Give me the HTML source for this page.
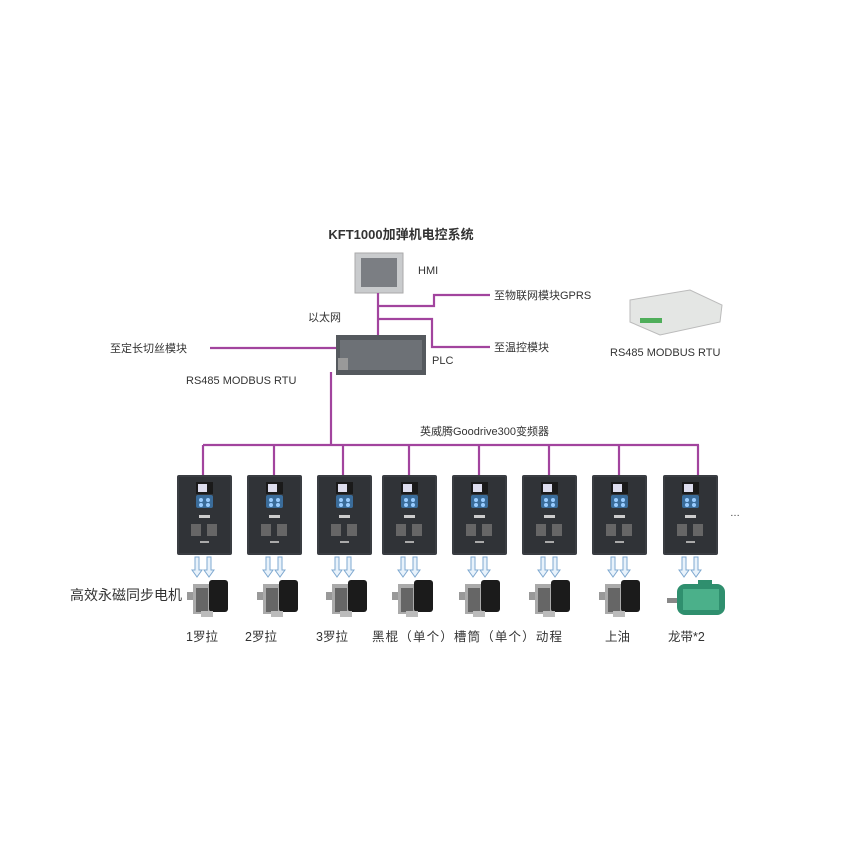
<!DOCTYPE html>
<html><head><meta charset="utf-8"><style>
html,body{margin:0;padding:0;background:#fff}
svg{display:block}
text{font-family:"Liberation Sans","Noto Sans CJK SC",sans-serif;fill:#333}
</style></head><body>
<svg width="850" height="850" viewBox="0 0 850 850" xmlns="http://www.w3.org/2000/svg">
<defs>
<g id="drive">
<rect x="0" y="0" width="55" height="80" rx="2" fill="#3a3d42"/>
<rect x="2" y="2" width="51" height="76" fill="#303337"/>
<rect x="19" y="7" width="17" height="12" fill="#1a1a1a"/>
<rect x="21" y="9" width="9" height="8" fill="#dde"/>
<rect x="19" y="20" width="17" height="13" rx="2" fill="#3a6c9a"/>
<circle cx="24" cy="25" r="2" fill="#9cf"/><circle cx="31" cy="25" r="2" fill="#9cf"/>
<circle cx="24" cy="30" r="2" fill="#9cf"/><circle cx="31" cy="30" r="2" fill="#9cf"/>
<rect x="22" y="40" width="11" height="3" fill="#ccc"/>
<rect x="14" y="49" width="10" height="12" fill="#666"/><rect x="30" y="49" width="10" height="12" fill="#666"/>
<rect x="23" y="66" width="9" height="2" fill="#aaa"/>
</g>
<g id="motor">
<rect x="0" y="12" width="8" height="8" fill="#999"/>
<rect x="6" y="4" width="18" height="30" fill="#aaa"/>
<rect x="9" y="8" width="12" height="24" fill="#666"/>
<rect x="22" y="0" width="19" height="32" rx="3" fill="#1b1b1b"/>
<rect x="14" y="31" width="12" height="6" fill="#bbb"/>
</g>
<g id="arr">
<path d="M-8 0 V13 H-11 L-6 20 L-1 13 H-4 V0 Z" fill="#e8f2fb" stroke="#7fa9d0" stroke-width="1"/>
<path d="M4 0 V13 H1 L6 20 L11 13 H8 V0 Z" fill="#e8f2fb" stroke="#7fa9d0" stroke-width="1"/>
</g>
</defs>

<text x="401" y="239" font-size="13" font-weight="bold" text-anchor="middle" fill="#222">KFT1000加弹机电控系统</text>

<rect x="355" y="253" width="48" height="40" fill="#c9cbcd" stroke="#aaa"/>
<rect x="361" y="258" width="36" height="29" fill="#7b7e83"/>
<text x="418" y="274" font-size="11">HMI</text>

<g stroke="#a2449e" stroke-width="2.2" fill="none">
<path d="M378 293 V337"/>
<path d="M378 306 H434 V295 H490"/>
<path d="M378 319 H432 V347 H490"/>
<path d="M210 348 H337"/>
<path d="M331 372 V445"/>
<path d="M203 445 H699"/>
<path d="M203 445 V476 M274 445 V476 M343 445 V476 M409 445 V476 M479 445 V476 M549 445 V476 M619 445 V476 M698 445 V476"/>
</g>

<text x="494" y="299" font-size="11">至物联网模块GPRS</text>
<text x="494" y="351" font-size="11">至温控模块</text>
<text x="308" y="321" font-size="11">以太网</text>
<text x="110" y="352" font-size="11">至定长切丝模块</text>
<text x="186" y="384" font-size="11">RS485 MODBUS RTU</text>
<text x="432" y="364" font-size="11">PLC</text>

<rect x="336" y="335" width="90" height="40" fill="#55595e"/>
<rect x="340" y="340" width="82" height="30" fill="#6d7176"/>
<rect x="338" y="358" width="10" height="12" fill="#999"/>

<path d="M630 300 L690 290 L722 305 L720 322 L660 335 L630 322 Z" fill="#e4e6e4" stroke="#bbb"/>
<rect x="640" y="318" width="22" height="5" fill="#4fae5a"/>
<text x="610" y="356" font-size="11">RS485 MODBUS RTU</text>

<text x="420" y="435" font-size="11">英威腾Goodrive300变频器</text>

<use href="#drive" x="177" y="475"/>
<use href="#drive" x="247" y="475"/>
<use href="#drive" x="317" y="475"/>
<use href="#drive" x="382" y="475"/>
<use href="#drive" x="452" y="475"/>
<use href="#drive" x="522" y="475"/>
<use href="#drive" x="592" y="475"/>
<use href="#drive" x="663" y="475"/>
<text x="730" y="516" font-size="10" fill="#888">…</text>

<use href="#arr" x="203" y="557"/>
<use href="#arr" x="274" y="557"/>
<use href="#arr" x="343" y="557"/>
<use href="#arr" x="409" y="557"/>
<use href="#arr" x="479" y="557"/>
<use href="#arr" x="549" y="557"/>
<use href="#arr" x="619" y="557"/>
<use href="#arr" x="690" y="557"/>

<use href="#motor" x="187" y="580"/>
<use href="#motor" x="257" y="580"/>
<use href="#motor" x="326" y="580"/>
<use href="#motor" x="392" y="580"/>
<use href="#motor" x="459" y="580"/>
<use href="#motor" x="529" y="580"/>
<use href="#motor" x="599" y="580"/>
<g>
<rect x="667" y="598" width="12" height="5" fill="#888"/>
<rect x="677" y="584" width="48" height="31" rx="8" fill="#2f8f6e"/>
<rect x="683" y="589" width="36" height="21" fill="#4bb08a"/>
<rect x="698" y="580" width="14" height="6" fill="#2f8f6e"/>
</g>
<text x="70" y="600" font-size="14">高效永磁同步电机</text>

<g font-size="12.5">
<text x="186" y="641">1罗拉</text>
<text x="245" y="641">2罗拉</text>
<text x="316" y="641">3罗拉</text>
<text x="372" y="641" textLength="190" lengthAdjust="spacing">黑棍（单个）槽筒（单个）动程</text>
<text x="605" y="641">上油</text>
<text x="668" y="641">龙带*2</text>
</g>
</svg>
</body></html>
